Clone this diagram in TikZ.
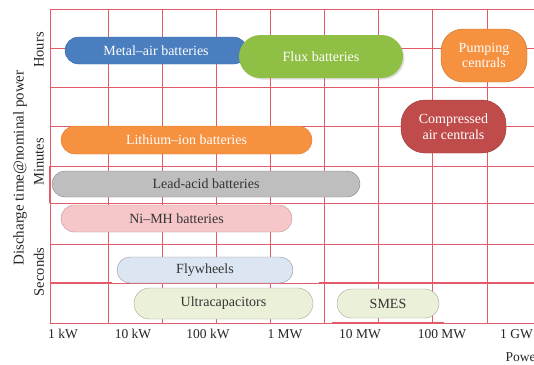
\documentclass[tikz,border=0pt]{standalone}
\usepackage{fontspec}
\setmainfont{Liberation Serif}
\usetikzlibrary{shadows}
\definecolor{gridred}{HTML}{E35A68}
\definecolor{cblue}{HTML}{4A7EBF}
\definecolor{cgreen}{HTML}{8FBF45}
\definecolor{corange}{HTML}{F5913F}
\definecolor{cred}{HTML}{BF4B4B}
\definecolor{cgray}{HTML}{BEBEBE}
\definecolor{cpink}{HTML}{F6C6C8}
\definecolor{clblue}{HTML}{DCE5F2}
\definecolor{cyel}{HTML}{EBF0D8}
\tikzset{
  gridline/.style={draw=gridred, line width=0.8pt},
  heavyline/.style={draw=gridred, line width=2pt},
  bar/.style={rectangle, inner sep=0pt, font=\fontsize{14}{15.5}\selectfont, align=center},
  darkbar/.style={bar, text=white},
  lightbar/.style={bar, text=black!80},
  ticklbl/.style={font=\fontsize{13.5}{15}\selectfont, text=black!85},
  axlbl/.style={font=\fontsize{14.5}{16}\selectfont, text=black!85, rotate=90},
}
\begin{document}
\begin{tikzpicture}[x=1pt,y=-1pt]
\useasboundingbox (0,0) rectangle (534,364);
\fill[white] (0,0) rectangle (534,364);
% grid
\foreach \xx in {50,108,162,216,270,324,378,432,487}
  \draw[gridline] (\xx,9) -- (\xx,323);
\foreach \yy in {9,48,87,126,166,203,244,283,323}
  \draw[gridline] (50,\yy) -- (534,\yy);
\draw[heavyline] (50,166) -- (50,203);
\draw[heavyline] (50,283) -- (112,283);
\draw[heavyline] (319,283) -- (534,283);
\draw[heavyline] (332,323) -- (444,323);
% bars
\node[darkbar, fill=cblue, draw=cblue!85!black, minimum width=182pt, minimum height=27pt, rounded corners=13.5pt] (metal) at (156,50.5) {Metal–air batteries};
\node[darkbar, fill=cgreen, minimum width=164pt, minimum height=43pt, rounded corners=21.5pt, drop shadow={opacity=0.25, shadow xshift=1.5pt, shadow yshift=-1.5pt}] (flux) at (321,56.5) {Flux batteries};
\node[darkbar, fill=corange, draw=corange!80!black, minimum width=86pt, minimum height=53pt, rounded corners=22pt] (pump) at (484,55.5) {Pumping\\centrals};
\node[darkbar, fill=cred, draw=cred!80!black, minimum width=105pt, minimum height=53pt, rounded corners=24pt] (caes) at (453.5,126.5) {Compressed\\air centrals};
\node[darkbar, fill=corange, draw=corange!90!black, minimum width=251pt, minimum height=28pt, rounded corners=14pt] (liion) at (186.5,140) {Lithium–ion batteries};
\node[lightbar, fill=cgray, draw=gray, minimum width=308pt, minimum height=26pt, rounded corners=13pt] (lead) at (206,184) {Lead-acid batteries};
\node[lightbar, fill=cpink, draw=cpink!75!black, minimum width=231pt, minimum height=27pt, rounded corners=13.5pt] (nimh) at (176.5,218.5) {Ni–MH batteries};
\node[lightbar, fill=clblue, draw=clblue!65!black, minimum width=176pt, minimum height=26pt, rounded corners=13pt] (fly) at (205,270) {Flywheels};
\node[lightbar, fill=cyel, draw=cyel!70!black, minimum width=179pt, minimum height=31pt, rounded corners=15.5pt] (ucap) at (223.5,303.5) {Ultracapacitors};
\node[lightbar, fill=cyel, draw=cyel!70!black, minimum width=102pt, minimum height=29pt, rounded corners=14.5pt] (smes) at (388,303.5) {SMES};
% axis labels
\node[axlbl, font=\fontsize{15}{16}\selectfont] (ylab) at (20,168) {Discharge time@nominal power};
\node[axlbl] (hours) at (39,50) {Hours};
\node[axlbl] (minutes) at (39,162) {Minutes};
\node[axlbl] (seconds) at (39,272) {Seconds};
\node[ticklbl] (t1) at (63,334) {1 kW};
\node[ticklbl] (t2) at (133,334) {10 kW};
\node[ticklbl] (t3) at (208,334) {100 kW};
\node[ticklbl] (t4) at (285,334) {1 MW};
\node[ticklbl] (t5) at (360,334) {10 MW};
\node[ticklbl] (t6) at (442,334) {100 MW};
\node[ticklbl, anchor=east, inner xsep=1pt] (t7) at (534,334) {1 GW};
\node[ticklbl, anchor=west] (power) at (502,357) {Power};
\end{tikzpicture}
\end{document}
